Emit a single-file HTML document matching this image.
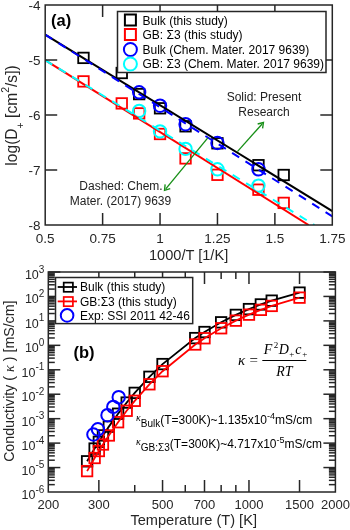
<!DOCTYPE html>
<html><head><meta charset="utf-8"><style>html,body{margin:0;padding:0;background:#fff;}svg{display:block;will-change:transform;}</style></head>
<body><svg width="350" height="530" viewBox="0 0 350 530">
<defs><clipPath id="clipA"><rect x="45.2" y="5" width="287.1" height="220"/></clipPath>
<clipPath id="clipB"><rect x="48.3" y="272" width="287.10" height="220"/></clipPath></defs>
<rect width="350" height="530" fill="#fff"/>
<g clip-path="url(#clipA)">
<rect x="78.23" y="76.15" width="10.5" height="10.5" fill="none" stroke="#ff0000" stroke-width="1.8"/>
<rect x="116.51" y="98.15" width="10.5" height="10.5" fill="none" stroke="#ff0000" stroke-width="1.8"/>
<rect x="133.91" y="108.15" width="10.5" height="10.5" fill="none" stroke="#ff0000" stroke-width="1.8"/>
<rect x="154.79" y="128.75" width="10.5" height="10.5" fill="none" stroke="#ff0000" stroke-width="1.8"/>
<rect x="180.31" y="153.15" width="10.5" height="10.5" fill="none" stroke="#ff0000" stroke-width="1.8"/>
<rect x="212.21" y="169.55" width="10.5" height="10.5" fill="none" stroke="#ff0000" stroke-width="1.8"/>
<rect x="253.22" y="184.45" width="10.5" height="10.5" fill="none" stroke="#ff0000" stroke-width="1.8"/>
<rect x="278.46" y="197.65" width="10.5" height="10.5" fill="none" stroke="#ff0000" stroke-width="1.8"/>
<rect x="78.23" y="52.65" width="10.5" height="10.5" fill="none" stroke="#000000" stroke-width="1.8"/>
<rect x="116.51" y="67.75" width="10.5" height="10.5" fill="none" stroke="#000000" stroke-width="1.8"/>
<rect x="133.91" y="88.85" width="10.5" height="10.5" fill="none" stroke="#000000" stroke-width="1.8"/>
<rect x="154.79" y="103.05" width="10.5" height="10.5" fill="none" stroke="#000000" stroke-width="1.8"/>
<rect x="180.31" y="121.05" width="10.5" height="10.5" fill="none" stroke="#000000" stroke-width="1.8"/>
<rect x="212.21" y="138.05" width="10.5" height="10.5" fill="none" stroke="#000000" stroke-width="1.8"/>
<rect x="253.22" y="159.95" width="10.5" height="10.5" fill="none" stroke="#000000" stroke-width="1.8"/>
<rect x="278.46" y="169.75" width="10.5" height="10.5" fill="none" stroke="#000000" stroke-width="1.8"/>
<circle cx="139.16" cy="110.90" r="6.2" fill="none" stroke="#00ffff" stroke-width="2"/>
<circle cx="160.04" cy="131.40" r="6.2" fill="none" stroke="#00ffff" stroke-width="2"/>
<circle cx="185.56" cy="148.90" r="6.2" fill="none" stroke="#00ffff" stroke-width="2"/>
<circle cx="217.46" cy="169.30" r="6.2" fill="none" stroke="#00ffff" stroke-width="2"/>
<circle cx="258.47" cy="185.60" r="6.2" fill="none" stroke="#00ffff" stroke-width="2"/>
<circle cx="139.16" cy="92.30" r="6.2" fill="none" stroke="#0000ff" stroke-width="2"/>
<circle cx="160.04" cy="105.70" r="6.2" fill="none" stroke="#0000ff" stroke-width="2"/>
<circle cx="185.56" cy="124.20" r="6.2" fill="none" stroke="#0000ff" stroke-width="2"/>
<circle cx="217.46" cy="143.00" r="6.2" fill="none" stroke="#0000ff" stroke-width="2"/>
<circle cx="258.47" cy="169.30" r="6.2" fill="none" stroke="#0000ff" stroke-width="2"/>
<line x1="45.20" y1="60.20" x2="308.60" y2="225.00" stroke="#ff0000" stroke-width="2" />
<line x1="45.20" y1="60.20" x2="314.50" y2="225.00" stroke="#00ffff" stroke-width="2" stroke-dasharray="8.3 7.4" />
<line x1="45.20" y1="34.60" x2="332.30" y2="211.10" stroke="#000000" stroke-width="2" />
<line x1="45.20" y1="34.60" x2="332.30" y2="216.30" stroke="#0000ff" stroke-width="2" stroke-dasharray="8.4 7.4" />
</g>
<rect x="45.2" y="5" width="287.1" height="220" fill="none" stroke="#262626" stroke-width="1.5"/>
<line x1="102.62" y1="225.00" x2="102.62" y2="213.00" stroke="#262626" stroke-width="1.5" />
<line x1="102.62" y1="5.00" x2="102.62" y2="17.00" stroke="#262626" stroke-width="1.5" />
<line x1="160.04" y1="225.00" x2="160.04" y2="213.00" stroke="#262626" stroke-width="1.5" />
<line x1="160.04" y1="5.00" x2="160.04" y2="17.00" stroke="#262626" stroke-width="1.5" />
<line x1="217.46" y1="225.00" x2="217.46" y2="213.00" stroke="#262626" stroke-width="1.5" />
<line x1="217.46" y1="5.00" x2="217.46" y2="17.00" stroke="#262626" stroke-width="1.5" />
<line x1="274.88" y1="225.00" x2="274.88" y2="213.00" stroke="#262626" stroke-width="1.5" />
<line x1="274.88" y1="5.00" x2="274.88" y2="17.00" stroke="#262626" stroke-width="1.5" />
<line x1="45.20" y1="60.00" x2="57.20" y2="60.00" stroke="#262626" stroke-width="1.5" />
<line x1="332.30" y1="60.00" x2="320.30" y2="60.00" stroke="#262626" stroke-width="1.5" />
<line x1="45.20" y1="115.00" x2="57.20" y2="115.00" stroke="#262626" stroke-width="1.5" />
<line x1="332.30" y1="115.00" x2="320.30" y2="115.00" stroke="#262626" stroke-width="1.5" />
<line x1="45.20" y1="170.00" x2="57.20" y2="170.00" stroke="#262626" stroke-width="1.5" />
<line x1="332.30" y1="170.00" x2="320.30" y2="170.00" stroke="#262626" stroke-width="1.5" />
<g font-family='"Liberation Sans", sans-serif' fill="#262626">
<text x="45.20" y="242.70" font-size="13.5" text-anchor="middle" >0.5</text>
<text x="102.62" y="242.70" font-size="13.5" text-anchor="middle" >0.75</text>
<text x="160.04" y="242.70" font-size="13.5" text-anchor="middle" >1</text>
<text x="217.46" y="242.70" font-size="13.5" text-anchor="middle" >1.25</text>
<text x="274.88" y="242.70" font-size="13.5" text-anchor="middle" >1.5</text>
<text x="332.30" y="242.70" font-size="13.5" text-anchor="middle" >1.75</text>
<text x="40.50" y="9.80" font-size="13.5" text-anchor="end" >-4</text>
<text x="40.50" y="64.80" font-size="13.5" text-anchor="end" >-5</text>
<text x="40.50" y="119.80" font-size="13.5" text-anchor="end" >-6</text>
<text x="40.50" y="174.80" font-size="13.5" text-anchor="end" >-7</text>
<text x="40.50" y="229.80" font-size="13.5" text-anchor="end" >-8</text>
<text x="188.60" y="259.60" font-size="14.6" text-anchor="middle" >1000/T [1/K]</text>
<text transform="translate(16.8,115.5) rotate(-90)" font-size="15.6" text-anchor="middle">log(D<tspan font-size="10.5" dy="7">+</tspan><tspan dy="-7"> [cm</tspan><tspan font-size="10.5" dy="-7.5">2</tspan><tspan dy="7.5">/s])</tspan></text>
</g>
<rect x="117.5" y="11.5" width="208.5" height="61" fill="#fff" stroke="#262626" stroke-width="1.5"/>
<rect x="124.90" y="14.50" width="11" height="11" fill="none" stroke="#000000" stroke-width="2"/>
<rect x="124.90" y="29.00" width="11" height="11" fill="none" stroke="#ff0000" stroke-width="2"/>
<circle cx="130.40" cy="49.50" r="6.5" fill="none" stroke="#0000ff" stroke-width="2"/>
<circle cx="130.40" cy="64.00" r="6.5" fill="none" stroke="#00ffff" stroke-width="2"/>
<g font-family='"Liberation Sans", sans-serif' fill="#000">
<text x="142.50" y="24.60" font-size="12" text-anchor="start" >Bulk (this study)</text>
<text x="142.50" y="39.10" font-size="12" text-anchor="start" >GB: &#931;3 (this study)</text>
<text x="142.50" y="53.60" font-size="12" text-anchor="start" >Bulk (Chem. Mater. 2017 9639)</text>
<text x="142.50" y="68.10" font-size="12" text-anchor="start" >GB: &#931;3 (Chem. Mater. 2017 9639)</text>
</g>
<text x="51" y="26" font-family='"Liberation Sans", sans-serif' font-size="16.5" font-weight="bold" fill="#000">(a)</text>
<g font-family='"Liberation Sans", sans-serif' fill="#222" font-size="12">
<text x="264.00" y="101.10" font-size="12" text-anchor="middle" >Solid: Present</text>
<text x="264.00" y="115.90" font-size="12" text-anchor="middle" >Research</text>
<text x="121.00" y="190.00" font-size="12" text-anchor="middle" >Dashed: Chem.</text>
<text x="120.50" y="204.80" font-size="12" text-anchor="middle" >Mater. (2017) 9639</text>
</g>
<line x1="237.40" y1="151.60" x2="262.13" y2="123.99" stroke="#178f17" stroke-width="1.35"/>
<polyline points="262.59,128.42 263.47,122.50 257.67,124.02" fill="none" stroke="#178f17" stroke-width="1.35" stroke-linejoin="miter"/>
<line x1="208.00" y1="137.60" x2="165.78" y2="188.84" stroke="#178f17" stroke-width="1.35"/>
<polyline points="165.14,184.43 164.51,190.38 170.24,188.62" fill="none" stroke="#178f17" stroke-width="1.35" stroke-linejoin="miter"/>
<g clip-path="url(#clipB)">
<rect x="81.85" y="456.06" width="10.5" height="10.5" fill="none" stroke="#000000" stroke-width="1.8"/>
<rect x="89.38" y="443.32" width="10.5" height="10.5" fill="none" stroke="#000000" stroke-width="1.8"/>
<rect x="93.61" y="436.52" width="10.5" height="10.5" fill="none" stroke="#000000" stroke-width="1.8"/>
<rect x="97.69" y="430.16" width="10.5" height="10.5" fill="none" stroke="#000000" stroke-width="1.8"/>
<rect x="103.59" y="421.38" width="10.5" height="10.5" fill="none" stroke="#000000" stroke-width="1.8"/>
<rect x="112.83" y="408.47" width="10.5" height="10.5" fill="none" stroke="#000000" stroke-width="1.8"/>
<rect x="121.43" y="397.33" width="10.5" height="10.5" fill="none" stroke="#000000" stroke-width="1.8"/>
<rect x="129.48" y="387.63" width="10.5" height="10.5" fill="none" stroke="#000000" stroke-width="1.8"/>
<rect x="144.16" y="371.56" width="10.5" height="10.5" fill="none" stroke="#000000" stroke-width="1.8"/>
<rect x="157.30" y="358.83" width="10.5" height="10.5" fill="none" stroke="#000000" stroke-width="1.8"/>
<rect x="190.01" y="332.84" width="10.5" height="10.5" fill="none" stroke="#000000" stroke-width="1.8"/>
<rect x="199.25" y="326.78" width="10.5" height="10.5" fill="none" stroke="#000000" stroke-width="1.8"/>
<rect x="215.90" y="317.07" width="10.5" height="10.5" fill="none" stroke="#000000" stroke-width="1.8"/>
<rect x="230.59" y="309.66" width="10.5" height="10.5" fill="none" stroke="#000000" stroke-width="1.8"/>
<rect x="243.72" y="303.85" width="10.5" height="10.5" fill="none" stroke="#000000" stroke-width="1.8"/>
<rect x="255.61" y="299.20" width="10.5" height="10.5" fill="none" stroke="#000000" stroke-width="1.8"/>
<rect x="266.46" y="295.40" width="10.5" height="10.5" fill="none" stroke="#000000" stroke-width="1.8"/>
<rect x="294.28" y="287.38" width="10.5" height="10.5" fill="none" stroke="#000000" stroke-width="1.8"/>
<polyline points="87.10,461.31 94.63,448.57 98.86,441.77 102.94,435.41 108.84,426.63 118.08,413.72 126.68,402.58 134.73,392.88 149.41,376.81 162.55,364.08 195.26,338.09 204.50,332.03 221.15,322.32 235.84,314.91 248.97,309.10 260.86,304.45 271.71,300.65 299.53,292.63" fill="none" stroke="#000000" stroke-width="1.8"/>
<rect x="81.85" y="465.85" width="10.5" height="10.5" fill="none" stroke="#ff0000" stroke-width="1.8"/>
<rect x="89.38" y="452.76" width="10.5" height="10.5" fill="none" stroke="#ff0000" stroke-width="1.8"/>
<rect x="93.61" y="445.77" width="10.5" height="10.5" fill="none" stroke="#ff0000" stroke-width="1.8"/>
<rect x="97.69" y="439.25" width="10.5" height="10.5" fill="none" stroke="#ff0000" stroke-width="1.8"/>
<rect x="103.59" y="430.23" width="10.5" height="10.5" fill="none" stroke="#ff0000" stroke-width="1.8"/>
<rect x="112.83" y="416.97" width="10.5" height="10.5" fill="none" stroke="#ff0000" stroke-width="1.8"/>
<rect x="121.43" y="405.53" width="10.5" height="10.5" fill="none" stroke="#ff0000" stroke-width="1.8"/>
<rect x="129.48" y="395.56" width="10.5" height="10.5" fill="none" stroke="#ff0000" stroke-width="1.8"/>
<rect x="144.16" y="379.05" width="10.5" height="10.5" fill="none" stroke="#ff0000" stroke-width="1.8"/>
<rect x="157.30" y="365.97" width="10.5" height="10.5" fill="none" stroke="#ff0000" stroke-width="1.8"/>
<rect x="190.01" y="339.25" width="10.5" height="10.5" fill="none" stroke="#ff0000" stroke-width="1.8"/>
<rect x="199.25" y="333.01" width="10.5" height="10.5" fill="none" stroke="#ff0000" stroke-width="1.8"/>
<rect x="215.90" y="323.01" width="10.5" height="10.5" fill="none" stroke="#ff0000" stroke-width="1.8"/>
<rect x="230.59" y="315.39" width="10.5" height="10.5" fill="none" stroke="#ff0000" stroke-width="1.8"/>
<rect x="243.72" y="309.40" width="10.5" height="10.5" fill="none" stroke="#ff0000" stroke-width="1.8"/>
<rect x="255.61" y="304.60" width="10.5" height="10.5" fill="none" stroke="#ff0000" stroke-width="1.8"/>
<rect x="266.46" y="300.68" width="10.5" height="10.5" fill="none" stroke="#ff0000" stroke-width="1.8"/>
<rect x="294.28" y="292.40" width="10.5" height="10.5" fill="none" stroke="#ff0000" stroke-width="1.8"/>
<polyline points="87.10,471.10 94.63,458.01 98.86,451.02 102.94,444.50 108.84,435.48 118.08,422.22 126.68,410.78 134.73,400.81 149.41,384.30 162.55,371.22 195.26,344.50 204.50,338.26 221.15,328.26 235.84,320.64 248.97,314.65 260.86,309.85 271.71,305.93 299.53,297.65" fill="none" stroke="#ff0000" stroke-width="1.8"/>
<circle cx="118.70" cy="397.20" r="6.2" fill="none" stroke="#0000ff" stroke-width="2"/>
<circle cx="113.30" cy="406.90" r="6.2" fill="none" stroke="#0000ff" stroke-width="2"/>
<circle cx="107.50" cy="415.20" r="6.2" fill="none" stroke="#0000ff" stroke-width="2"/>
<circle cx="97.90" cy="429.30" r="6.2" fill="none" stroke="#0000ff" stroke-width="2"/>
<circle cx="93.40" cy="434.50" r="6.2" fill="none" stroke="#0000ff" stroke-width="2"/>
</g>
<rect x="48.3" y="272" width="287.10" height="220" fill="none" stroke="#262626" stroke-width="1.5"/>
<line x1="98.86" y1="492.00" x2="98.86" y2="480.00" stroke="#262626" stroke-width="1.5" />
<line x1="98.86" y1="272.00" x2="98.86" y2="284.00" stroke="#262626" stroke-width="1.5" />
<line x1="162.55" y1="492.00" x2="162.55" y2="480.00" stroke="#262626" stroke-width="1.5" />
<line x1="162.55" y1="272.00" x2="162.55" y2="284.00" stroke="#262626" stroke-width="1.5" />
<line x1="204.50" y1="492.00" x2="204.50" y2="480.00" stroke="#262626" stroke-width="1.5" />
<line x1="204.50" y1="272.00" x2="204.50" y2="284.00" stroke="#262626" stroke-width="1.5" />
<line x1="248.97" y1="492.00" x2="248.97" y2="480.00" stroke="#262626" stroke-width="1.5" />
<line x1="248.97" y1="272.00" x2="248.97" y2="284.00" stroke="#262626" stroke-width="1.5" />
<line x1="299.53" y1="492.00" x2="299.53" y2="480.00" stroke="#262626" stroke-width="1.5" />
<line x1="299.53" y1="272.00" x2="299.53" y2="284.00" stroke="#262626" stroke-width="1.5" />
<line x1="134.73" y1="492.00" x2="134.73" y2="485.00" stroke="#262626" stroke-width="1.5" />
<line x1="134.73" y1="272.00" x2="134.73" y2="279.00" stroke="#262626" stroke-width="1.5" />
<line x1="185.28" y1="492.00" x2="185.28" y2="485.00" stroke="#262626" stroke-width="1.5" />
<line x1="185.28" y1="272.00" x2="185.28" y2="279.00" stroke="#262626" stroke-width="1.5" />
<line x1="221.15" y1="492.00" x2="221.15" y2="485.00" stroke="#262626" stroke-width="1.5" />
<line x1="221.15" y1="272.00" x2="221.15" y2="279.00" stroke="#262626" stroke-width="1.5" />
<line x1="235.84" y1="492.00" x2="235.84" y2="485.00" stroke="#262626" stroke-width="1.5" />
<line x1="235.84" y1="272.00" x2="235.84" y2="279.00" stroke="#262626" stroke-width="1.5" />
<line x1="48.30" y1="484.64" x2="54.80" y2="484.64" stroke="#262626" stroke-width="1.5" />
<line x1="335.40" y1="484.64" x2="328.90" y2="484.64" stroke="#262626" stroke-width="1.5" />
<line x1="48.30" y1="480.34" x2="54.80" y2="480.34" stroke="#262626" stroke-width="1.5" />
<line x1="335.40" y1="480.34" x2="328.90" y2="480.34" stroke="#262626" stroke-width="1.5" />
<line x1="48.30" y1="477.28" x2="54.80" y2="477.28" stroke="#262626" stroke-width="1.5" />
<line x1="335.40" y1="477.28" x2="328.90" y2="477.28" stroke="#262626" stroke-width="1.5" />
<line x1="48.30" y1="474.91" x2="54.80" y2="474.91" stroke="#262626" stroke-width="1.5" />
<line x1="335.40" y1="474.91" x2="328.90" y2="474.91" stroke="#262626" stroke-width="1.5" />
<line x1="48.30" y1="472.98" x2="54.80" y2="472.98" stroke="#262626" stroke-width="1.5" />
<line x1="335.40" y1="472.98" x2="328.90" y2="472.98" stroke="#262626" stroke-width="1.5" />
<line x1="48.30" y1="471.34" x2="54.80" y2="471.34" stroke="#262626" stroke-width="1.5" />
<line x1="335.40" y1="471.34" x2="328.90" y2="471.34" stroke="#262626" stroke-width="1.5" />
<line x1="48.30" y1="469.92" x2="54.80" y2="469.92" stroke="#262626" stroke-width="1.5" />
<line x1="335.40" y1="469.92" x2="328.90" y2="469.92" stroke="#262626" stroke-width="1.5" />
<line x1="48.30" y1="468.67" x2="54.80" y2="468.67" stroke="#262626" stroke-width="1.5" />
<line x1="335.40" y1="468.67" x2="328.90" y2="468.67" stroke="#262626" stroke-width="1.5" />
<line x1="48.30" y1="467.56" x2="60.30" y2="467.56" stroke="#262626" stroke-width="1.5" />
<line x1="335.40" y1="467.56" x2="323.40" y2="467.56" stroke="#262626" stroke-width="1.5" />
<line x1="48.30" y1="460.20" x2="54.80" y2="460.20" stroke="#262626" stroke-width="1.5" />
<line x1="335.40" y1="460.20" x2="328.90" y2="460.20" stroke="#262626" stroke-width="1.5" />
<line x1="48.30" y1="455.89" x2="54.80" y2="455.89" stroke="#262626" stroke-width="1.5" />
<line x1="335.40" y1="455.89" x2="328.90" y2="455.89" stroke="#262626" stroke-width="1.5" />
<line x1="48.30" y1="452.84" x2="54.80" y2="452.84" stroke="#262626" stroke-width="1.5" />
<line x1="335.40" y1="452.84" x2="328.90" y2="452.84" stroke="#262626" stroke-width="1.5" />
<line x1="48.30" y1="450.47" x2="54.80" y2="450.47" stroke="#262626" stroke-width="1.5" />
<line x1="335.40" y1="450.47" x2="328.90" y2="450.47" stroke="#262626" stroke-width="1.5" />
<line x1="48.30" y1="448.53" x2="54.80" y2="448.53" stroke="#262626" stroke-width="1.5" />
<line x1="335.40" y1="448.53" x2="328.90" y2="448.53" stroke="#262626" stroke-width="1.5" />
<line x1="48.30" y1="446.90" x2="54.80" y2="446.90" stroke="#262626" stroke-width="1.5" />
<line x1="335.40" y1="446.90" x2="328.90" y2="446.90" stroke="#262626" stroke-width="1.5" />
<line x1="48.30" y1="445.48" x2="54.80" y2="445.48" stroke="#262626" stroke-width="1.5" />
<line x1="335.40" y1="445.48" x2="328.90" y2="445.48" stroke="#262626" stroke-width="1.5" />
<line x1="48.30" y1="444.23" x2="54.80" y2="444.23" stroke="#262626" stroke-width="1.5" />
<line x1="335.40" y1="444.23" x2="328.90" y2="444.23" stroke="#262626" stroke-width="1.5" />
<line x1="48.30" y1="443.11" x2="60.30" y2="443.11" stroke="#262626" stroke-width="1.5" />
<line x1="335.40" y1="443.11" x2="323.40" y2="443.11" stroke="#262626" stroke-width="1.5" />
<line x1="48.30" y1="435.75" x2="54.80" y2="435.75" stroke="#262626" stroke-width="1.5" />
<line x1="335.40" y1="435.75" x2="328.90" y2="435.75" stroke="#262626" stroke-width="1.5" />
<line x1="48.30" y1="431.45" x2="54.80" y2="431.45" stroke="#262626" stroke-width="1.5" />
<line x1="335.40" y1="431.45" x2="328.90" y2="431.45" stroke="#262626" stroke-width="1.5" />
<line x1="48.30" y1="428.39" x2="54.80" y2="428.39" stroke="#262626" stroke-width="1.5" />
<line x1="335.40" y1="428.39" x2="328.90" y2="428.39" stroke="#262626" stroke-width="1.5" />
<line x1="48.30" y1="426.03" x2="54.80" y2="426.03" stroke="#262626" stroke-width="1.5" />
<line x1="335.40" y1="426.03" x2="328.90" y2="426.03" stroke="#262626" stroke-width="1.5" />
<line x1="48.30" y1="424.09" x2="54.80" y2="424.09" stroke="#262626" stroke-width="1.5" />
<line x1="335.40" y1="424.09" x2="328.90" y2="424.09" stroke="#262626" stroke-width="1.5" />
<line x1="48.30" y1="422.45" x2="54.80" y2="422.45" stroke="#262626" stroke-width="1.5" />
<line x1="335.40" y1="422.45" x2="328.90" y2="422.45" stroke="#262626" stroke-width="1.5" />
<line x1="48.30" y1="421.04" x2="54.80" y2="421.04" stroke="#262626" stroke-width="1.5" />
<line x1="335.40" y1="421.04" x2="328.90" y2="421.04" stroke="#262626" stroke-width="1.5" />
<line x1="48.30" y1="419.79" x2="54.80" y2="419.79" stroke="#262626" stroke-width="1.5" />
<line x1="335.40" y1="419.79" x2="328.90" y2="419.79" stroke="#262626" stroke-width="1.5" />
<line x1="48.30" y1="418.67" x2="60.30" y2="418.67" stroke="#262626" stroke-width="1.5" />
<line x1="335.40" y1="418.67" x2="323.40" y2="418.67" stroke="#262626" stroke-width="1.5" />
<line x1="48.30" y1="411.31" x2="54.80" y2="411.31" stroke="#262626" stroke-width="1.5" />
<line x1="335.40" y1="411.31" x2="328.90" y2="411.31" stroke="#262626" stroke-width="1.5" />
<line x1="48.30" y1="407.00" x2="54.80" y2="407.00" stroke="#262626" stroke-width="1.5" />
<line x1="335.40" y1="407.00" x2="328.90" y2="407.00" stroke="#262626" stroke-width="1.5" />
<line x1="48.30" y1="403.95" x2="54.80" y2="403.95" stroke="#262626" stroke-width="1.5" />
<line x1="335.40" y1="403.95" x2="328.90" y2="403.95" stroke="#262626" stroke-width="1.5" />
<line x1="48.30" y1="401.58" x2="54.80" y2="401.58" stroke="#262626" stroke-width="1.5" />
<line x1="335.40" y1="401.58" x2="328.90" y2="401.58" stroke="#262626" stroke-width="1.5" />
<line x1="48.30" y1="399.65" x2="54.80" y2="399.65" stroke="#262626" stroke-width="1.5" />
<line x1="335.40" y1="399.65" x2="328.90" y2="399.65" stroke="#262626" stroke-width="1.5" />
<line x1="48.30" y1="398.01" x2="54.80" y2="398.01" stroke="#262626" stroke-width="1.5" />
<line x1="335.40" y1="398.01" x2="328.90" y2="398.01" stroke="#262626" stroke-width="1.5" />
<line x1="48.30" y1="396.59" x2="54.80" y2="396.59" stroke="#262626" stroke-width="1.5" />
<line x1="335.40" y1="396.59" x2="328.90" y2="396.59" stroke="#262626" stroke-width="1.5" />
<line x1="48.30" y1="395.34" x2="54.80" y2="395.34" stroke="#262626" stroke-width="1.5" />
<line x1="335.40" y1="395.34" x2="328.90" y2="395.34" stroke="#262626" stroke-width="1.5" />
<line x1="48.30" y1="394.22" x2="60.30" y2="394.22" stroke="#262626" stroke-width="1.5" />
<line x1="335.40" y1="394.22" x2="323.40" y2="394.22" stroke="#262626" stroke-width="1.5" />
<line x1="48.30" y1="386.86" x2="54.80" y2="386.86" stroke="#262626" stroke-width="1.5" />
<line x1="335.40" y1="386.86" x2="328.90" y2="386.86" stroke="#262626" stroke-width="1.5" />
<line x1="48.30" y1="382.56" x2="54.80" y2="382.56" stroke="#262626" stroke-width="1.5" />
<line x1="335.40" y1="382.56" x2="328.90" y2="382.56" stroke="#262626" stroke-width="1.5" />
<line x1="48.30" y1="379.51" x2="54.80" y2="379.51" stroke="#262626" stroke-width="1.5" />
<line x1="335.40" y1="379.51" x2="328.90" y2="379.51" stroke="#262626" stroke-width="1.5" />
<line x1="48.30" y1="377.14" x2="54.80" y2="377.14" stroke="#262626" stroke-width="1.5" />
<line x1="335.40" y1="377.14" x2="328.90" y2="377.14" stroke="#262626" stroke-width="1.5" />
<line x1="48.30" y1="375.20" x2="54.80" y2="375.20" stroke="#262626" stroke-width="1.5" />
<line x1="335.40" y1="375.20" x2="328.90" y2="375.20" stroke="#262626" stroke-width="1.5" />
<line x1="48.30" y1="373.56" x2="54.80" y2="373.56" stroke="#262626" stroke-width="1.5" />
<line x1="335.40" y1="373.56" x2="328.90" y2="373.56" stroke="#262626" stroke-width="1.5" />
<line x1="48.30" y1="372.15" x2="54.80" y2="372.15" stroke="#262626" stroke-width="1.5" />
<line x1="335.40" y1="372.15" x2="328.90" y2="372.15" stroke="#262626" stroke-width="1.5" />
<line x1="48.30" y1="370.90" x2="54.80" y2="370.90" stroke="#262626" stroke-width="1.5" />
<line x1="335.40" y1="370.90" x2="328.90" y2="370.90" stroke="#262626" stroke-width="1.5" />
<line x1="48.30" y1="369.78" x2="60.30" y2="369.78" stroke="#262626" stroke-width="1.5" />
<line x1="335.40" y1="369.78" x2="323.40" y2="369.78" stroke="#262626" stroke-width="1.5" />
<line x1="48.30" y1="362.42" x2="54.80" y2="362.42" stroke="#262626" stroke-width="1.5" />
<line x1="335.40" y1="362.42" x2="328.90" y2="362.42" stroke="#262626" stroke-width="1.5" />
<line x1="48.30" y1="358.11" x2="54.80" y2="358.11" stroke="#262626" stroke-width="1.5" />
<line x1="335.40" y1="358.11" x2="328.90" y2="358.11" stroke="#262626" stroke-width="1.5" />
<line x1="48.30" y1="355.06" x2="54.80" y2="355.06" stroke="#262626" stroke-width="1.5" />
<line x1="335.40" y1="355.06" x2="328.90" y2="355.06" stroke="#262626" stroke-width="1.5" />
<line x1="48.30" y1="352.69" x2="54.80" y2="352.69" stroke="#262626" stroke-width="1.5" />
<line x1="335.40" y1="352.69" x2="328.90" y2="352.69" stroke="#262626" stroke-width="1.5" />
<line x1="48.30" y1="350.76" x2="54.80" y2="350.76" stroke="#262626" stroke-width="1.5" />
<line x1="335.40" y1="350.76" x2="328.90" y2="350.76" stroke="#262626" stroke-width="1.5" />
<line x1="48.30" y1="349.12" x2="54.80" y2="349.12" stroke="#262626" stroke-width="1.5" />
<line x1="335.40" y1="349.12" x2="328.90" y2="349.12" stroke="#262626" stroke-width="1.5" />
<line x1="48.30" y1="347.70" x2="54.80" y2="347.70" stroke="#262626" stroke-width="1.5" />
<line x1="335.40" y1="347.70" x2="328.90" y2="347.70" stroke="#262626" stroke-width="1.5" />
<line x1="48.30" y1="346.45" x2="54.80" y2="346.45" stroke="#262626" stroke-width="1.5" />
<line x1="335.40" y1="346.45" x2="328.90" y2="346.45" stroke="#262626" stroke-width="1.5" />
<line x1="48.30" y1="345.33" x2="60.30" y2="345.33" stroke="#262626" stroke-width="1.5" />
<line x1="335.40" y1="345.33" x2="323.40" y2="345.33" stroke="#262626" stroke-width="1.5" />
<line x1="48.30" y1="337.97" x2="54.80" y2="337.97" stroke="#262626" stroke-width="1.5" />
<line x1="335.40" y1="337.97" x2="328.90" y2="337.97" stroke="#262626" stroke-width="1.5" />
<line x1="48.30" y1="333.67" x2="54.80" y2="333.67" stroke="#262626" stroke-width="1.5" />
<line x1="335.40" y1="333.67" x2="328.90" y2="333.67" stroke="#262626" stroke-width="1.5" />
<line x1="48.30" y1="330.62" x2="54.80" y2="330.62" stroke="#262626" stroke-width="1.5" />
<line x1="335.40" y1="330.62" x2="328.90" y2="330.62" stroke="#262626" stroke-width="1.5" />
<line x1="48.30" y1="328.25" x2="54.80" y2="328.25" stroke="#262626" stroke-width="1.5" />
<line x1="335.40" y1="328.25" x2="328.90" y2="328.25" stroke="#262626" stroke-width="1.5" />
<line x1="48.30" y1="326.31" x2="54.80" y2="326.31" stroke="#262626" stroke-width="1.5" />
<line x1="335.40" y1="326.31" x2="328.90" y2="326.31" stroke="#262626" stroke-width="1.5" />
<line x1="48.30" y1="324.68" x2="54.80" y2="324.68" stroke="#262626" stroke-width="1.5" />
<line x1="335.40" y1="324.68" x2="328.90" y2="324.68" stroke="#262626" stroke-width="1.5" />
<line x1="48.30" y1="323.26" x2="54.80" y2="323.26" stroke="#262626" stroke-width="1.5" />
<line x1="335.40" y1="323.26" x2="328.90" y2="323.26" stroke="#262626" stroke-width="1.5" />
<line x1="48.30" y1="322.01" x2="54.80" y2="322.01" stroke="#262626" stroke-width="1.5" />
<line x1="335.40" y1="322.01" x2="328.90" y2="322.01" stroke="#262626" stroke-width="1.5" />
<line x1="48.30" y1="320.89" x2="60.30" y2="320.89" stroke="#262626" stroke-width="1.5" />
<line x1="335.40" y1="320.89" x2="323.40" y2="320.89" stroke="#262626" stroke-width="1.5" />
<line x1="48.30" y1="313.53" x2="54.80" y2="313.53" stroke="#262626" stroke-width="1.5" />
<line x1="335.40" y1="313.53" x2="328.90" y2="313.53" stroke="#262626" stroke-width="1.5" />
<line x1="48.30" y1="309.23" x2="54.80" y2="309.23" stroke="#262626" stroke-width="1.5" />
<line x1="335.40" y1="309.23" x2="328.90" y2="309.23" stroke="#262626" stroke-width="1.5" />
<line x1="48.30" y1="306.17" x2="54.80" y2="306.17" stroke="#262626" stroke-width="1.5" />
<line x1="335.40" y1="306.17" x2="328.90" y2="306.17" stroke="#262626" stroke-width="1.5" />
<line x1="48.30" y1="303.80" x2="54.80" y2="303.80" stroke="#262626" stroke-width="1.5" />
<line x1="335.40" y1="303.80" x2="328.90" y2="303.80" stroke="#262626" stroke-width="1.5" />
<line x1="48.30" y1="301.87" x2="54.80" y2="301.87" stroke="#262626" stroke-width="1.5" />
<line x1="335.40" y1="301.87" x2="328.90" y2="301.87" stroke="#262626" stroke-width="1.5" />
<line x1="48.30" y1="300.23" x2="54.80" y2="300.23" stroke="#262626" stroke-width="1.5" />
<line x1="335.40" y1="300.23" x2="328.90" y2="300.23" stroke="#262626" stroke-width="1.5" />
<line x1="48.30" y1="298.81" x2="54.80" y2="298.81" stroke="#262626" stroke-width="1.5" />
<line x1="335.40" y1="298.81" x2="328.90" y2="298.81" stroke="#262626" stroke-width="1.5" />
<line x1="48.30" y1="297.56" x2="54.80" y2="297.56" stroke="#262626" stroke-width="1.5" />
<line x1="335.40" y1="297.56" x2="328.90" y2="297.56" stroke="#262626" stroke-width="1.5" />
<line x1="48.30" y1="296.44" x2="60.30" y2="296.44" stroke="#262626" stroke-width="1.5" />
<line x1="335.40" y1="296.44" x2="323.40" y2="296.44" stroke="#262626" stroke-width="1.5" />
<line x1="48.30" y1="289.09" x2="54.80" y2="289.09" stroke="#262626" stroke-width="1.5" />
<line x1="335.40" y1="289.09" x2="328.90" y2="289.09" stroke="#262626" stroke-width="1.5" />
<line x1="48.30" y1="284.78" x2="54.80" y2="284.78" stroke="#262626" stroke-width="1.5" />
<line x1="335.40" y1="284.78" x2="328.90" y2="284.78" stroke="#262626" stroke-width="1.5" />
<line x1="48.30" y1="281.73" x2="54.80" y2="281.73" stroke="#262626" stroke-width="1.5" />
<line x1="335.40" y1="281.73" x2="328.90" y2="281.73" stroke="#262626" stroke-width="1.5" />
<line x1="48.30" y1="279.36" x2="54.80" y2="279.36" stroke="#262626" stroke-width="1.5" />
<line x1="335.40" y1="279.36" x2="328.90" y2="279.36" stroke="#262626" stroke-width="1.5" />
<line x1="48.30" y1="277.42" x2="54.80" y2="277.42" stroke="#262626" stroke-width="1.5" />
<line x1="335.40" y1="277.42" x2="328.90" y2="277.42" stroke="#262626" stroke-width="1.5" />
<line x1="48.30" y1="275.79" x2="54.80" y2="275.79" stroke="#262626" stroke-width="1.5" />
<line x1="335.40" y1="275.79" x2="328.90" y2="275.79" stroke="#262626" stroke-width="1.5" />
<line x1="48.30" y1="274.37" x2="54.80" y2="274.37" stroke="#262626" stroke-width="1.5" />
<line x1="335.40" y1="274.37" x2="328.90" y2="274.37" stroke="#262626" stroke-width="1.5" />
<line x1="48.30" y1="273.12" x2="54.80" y2="273.12" stroke="#262626" stroke-width="1.5" />
<line x1="335.40" y1="273.12" x2="328.90" y2="273.12" stroke="#262626" stroke-width="1.5" />
<line x1="48.30" y1="272.00" x2="60.30" y2="272.00" stroke="#262626" stroke-width="1.5" />
<line x1="335.40" y1="272.00" x2="323.40" y2="272.00" stroke="#262626" stroke-width="1.5" />
<g font-family='"Liberation Sans", sans-serif' fill="#262626">
<text x="48.30" y="508.80" font-size="13" text-anchor="middle" >200</text>
<text x="98.86" y="508.80" font-size="13" text-anchor="middle" >300</text>
<text x="162.55" y="508.80" font-size="13" text-anchor="middle" >500</text>
<text x="204.50" y="508.80" font-size="13" text-anchor="middle" >700</text>
<text x="248.97" y="508.80" font-size="13" text-anchor="middle" >1000</text>
<text x="299.53" y="508.80" font-size="13" text-anchor="middle" >1500</text>
<text x="335.40" y="508.80" font-size="13" text-anchor="middle" >2000</text>
<text x="44.4" y="499.00" font-size="12.5" text-anchor="end">10<tspan font-size="10" dy="-6.5">-6</tspan></text>
<text x="44.4" y="474.56" font-size="12.5" text-anchor="end">10<tspan font-size="10" dy="-6.5">-5</tspan></text>
<text x="44.4" y="450.11" font-size="12.5" text-anchor="end">10<tspan font-size="10" dy="-6.5">-4</tspan></text>
<text x="44.4" y="425.67" font-size="12.5" text-anchor="end">10<tspan font-size="10" dy="-6.5">-3</tspan></text>
<text x="44.4" y="401.22" font-size="12.5" text-anchor="end">10<tspan font-size="10" dy="-6.5">-2</tspan></text>
<text x="44.4" y="376.78" font-size="12.5" text-anchor="end">10<tspan font-size="10" dy="-6.5">-1</tspan></text>
<text x="44.4" y="352.33" font-size="12.5" text-anchor="end">10<tspan font-size="10" dy="-6.5">0</tspan></text>
<text x="44.4" y="327.89" font-size="12.5" text-anchor="end">10<tspan font-size="10" dy="-6.5">1</tspan></text>
<text x="44.4" y="303.44" font-size="12.5" text-anchor="end">10<tspan font-size="10" dy="-6.5">2</tspan></text>
<text x="44.4" y="279.00" font-size="12.5" text-anchor="end">10<tspan font-size="10" dy="-6.5">3</tspan></text>
<text x="193.70" y="524.80" font-size="14.6" text-anchor="middle" >Temperature (T) [K]</text>
<text transform="translate(13.5,381.2) rotate(-90)" font-size="14.2" text-anchor="middle">Conductivity ( <tspan font-family='"Liberation Serif", serif' font-style="italic">&#954;</tspan> ) [mS/cm]</text>
</g>
<rect x="55.5" y="277.5" width="137.2" height="46.1" fill="#fff" stroke="#262626" stroke-width="1.5"/>
<line x1="57.70" y1="287.00" x2="77.00" y2="287.00" stroke="#000000" stroke-width="1.8" />
<rect x="63.70" y="282.60" width="9.2" height="9.2" fill="none" stroke="#000000" stroke-width="1.7"/>
<line x1="57.70" y1="301.40" x2="77.00" y2="301.40" stroke="#ff0000" stroke-width="1.8" />
<rect x="63.70" y="297.00" width="9.2" height="9.2" fill="none" stroke="#ff0000" stroke-width="1.7"/>
<circle cx="67.10" cy="315.40" r="6.3" fill="none" stroke="#0000ff" stroke-width="2"/>
<g font-family='"Liberation Sans", sans-serif' fill="#000">
<text x="80.00" y="291.20" font-size="12" text-anchor="start" >Bulk (this study)</text>
<text x="80.00" y="305.80" font-size="12" text-anchor="start" >GB:&#931;3 (this study)</text>
<text x="80.00" y="320.40" font-size="12" text-anchor="start" >Exp: SSI 2011 42-46</text>
</g>
<text x="73.5" y="358" font-family='"Liberation Sans", sans-serif' font-size="16.5" font-weight="bold" fill="#000">(b)</text>
<g font-family='"Liberation Serif", serif' font-style="italic" fill="#000">
<text x="238.00" y="364.50" font-size="15" text-anchor="start" >&#954;</text>
</g>
<text x="249.5" y="364.5" font-family='"Liberation Serif", serif' font-size="15" fill="#000">=</text>
<line x1="262.30" y1="360.50" x2="306.30" y2="360.50" stroke="#000" stroke-width="1" />
<text x="285.5" y="354.3" font-family='"Liberation Serif", serif' font-style="italic" font-size="14" text-anchor="middle" fill="#000">F<tspan font-size="9" dy="-6" dx="1.5" font-style="normal">2</tspan><tspan dy="6" dx="0.5">D</tspan><tspan font-size="9" dy="3" dx="0.5" font-style="normal">+</tspan><tspan dy="-3" dx="0.8">c</tspan><tspan font-size="9" dy="3" dx="0.8" font-style="normal">+</tspan></text>
<text x="284.3" y="375.7" font-family='"Liberation Serif", serif' font-style="italic" font-size="14" text-anchor="middle" fill="#000">RT</text>
<g font-family='"Liberation Sans", sans-serif' fill="#000">
<text x="136" y="423.6" font-size="12"><tspan font-family='"Liberation Serif", serif' font-style="italic" font-size="10" dy="-3">&#954;</tspan><tspan font-size="10" dy="6">Bulk</tspan><tspan dy="-3">(T=300K)~1.135x10</tspan><tspan font-size="9" dy="-5">-4</tspan><tspan dy="5">mS/cm</tspan></text>
<text x="136" y="447.6" font-size="12"><tspan font-family='"Liberation Serif", serif' font-style="italic" font-size="10" dy="-3">&#954;</tspan><tspan font-size="10" dy="6">GB:&#931;3</tspan><tspan dy="-3">(T=300K)~4.717x10</tspan><tspan font-size="9" dy="-5">-5</tspan><tspan dy="5">mS/cm</tspan></text>
</g>
</svg></body></html>
